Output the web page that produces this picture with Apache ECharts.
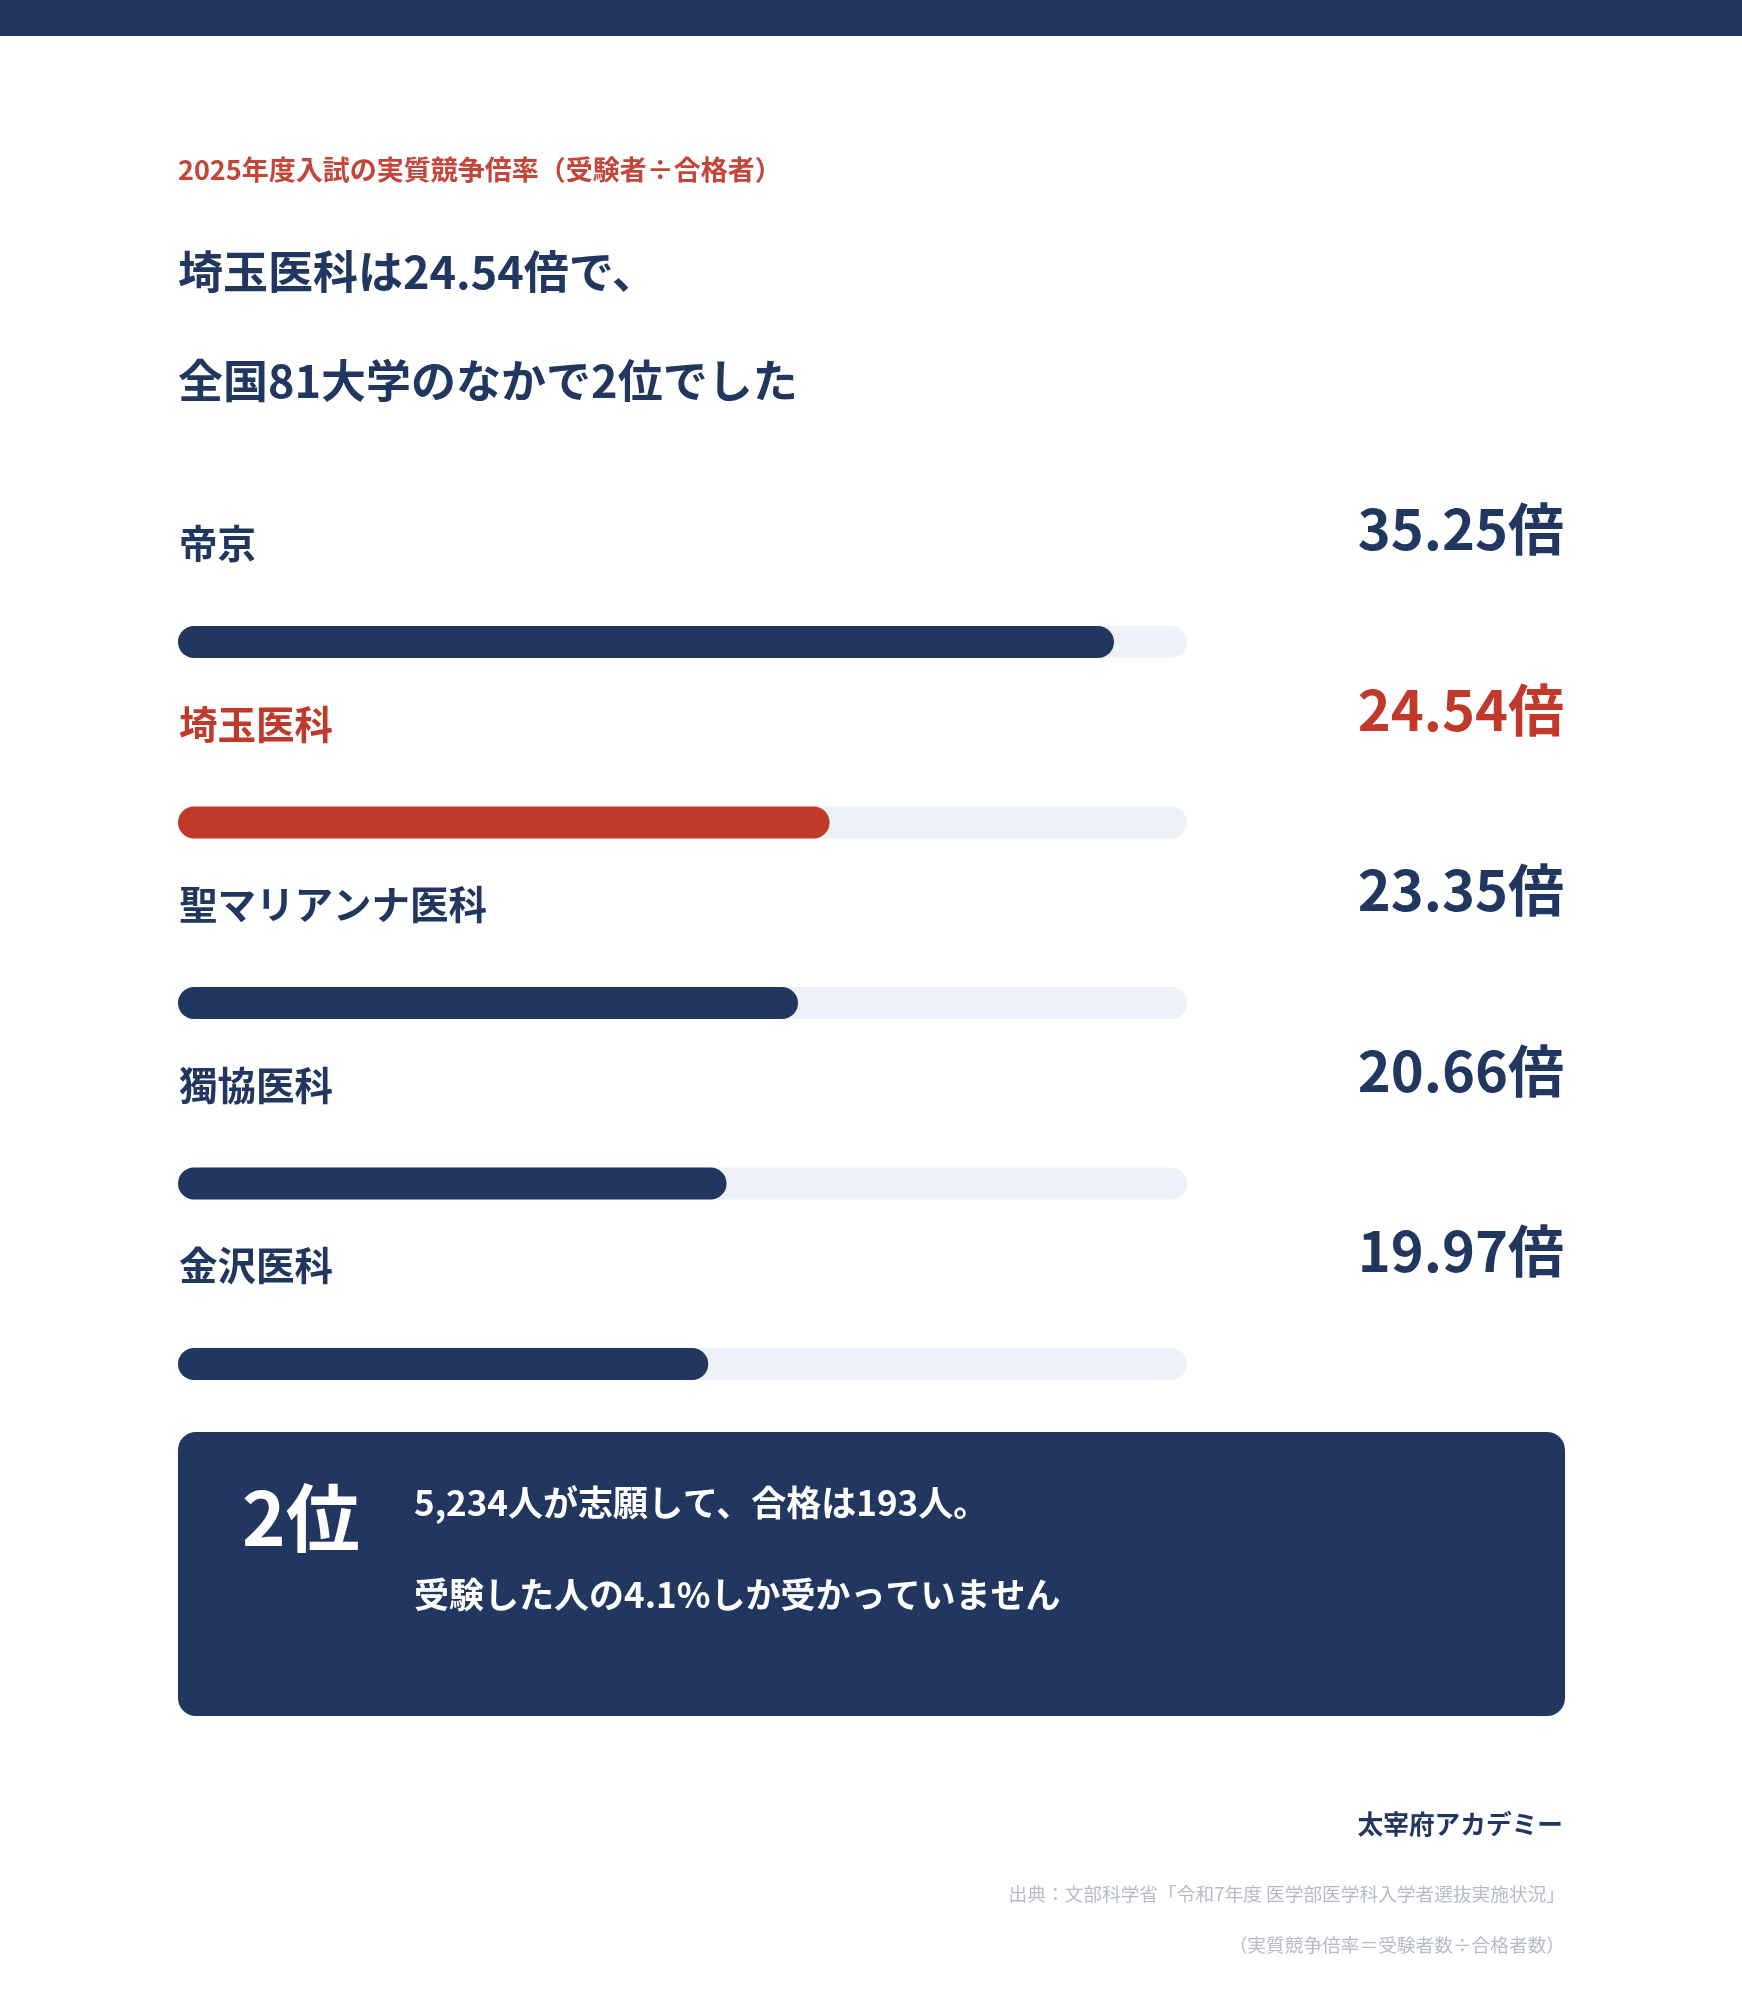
<!DOCTYPE html>
<html lang="ja">
<head>
<meta charset="utf-8">
<title>2025年度入試の実質競争倍率</title>
<script src="https://cdn.jsdelivr.net/npm/echarts@6/dist/echarts.min.js"></script>
<style>
  html, body { margin: 0; padding: 0; background: #ffffff; }
  #chart { width: 1742px; height: 2000px; }
</style>
</head>
<body>
<div id="chart"></div>
<script>
// ---- data ----
const categories = ['帝京', '埼玉医科', '聖マリアンナ医科', '獨協医科', '金沢医科'];
const values = [35.25, 24.54, 23.35, 20.66, 19.97];
const highlightName = '埼玉医科';
const axisMax = 38;
const rank = 2;
const universityCount = 81;
const applicants = '5,234';
const passed = 193;
const passRate = 4.1;

const subtitleText = '2025年度入試の実質競争倍率（受験者÷合格者）';
const brandText = '太宰府アカデミー';
const sourceText = '出典：文部科学省「令和7年度 医学部医学科入学者選抜実施状況」';
const noteText = '（実質競争倍率＝受験者数÷合格者数）';

// ---- styles ----
const NAVY = '#21375f';
const RED = '#c0392b';
const SUBRED = '#c4463b';
const TRACK = '#eef1f8';
const GRAY = '#b6bbc6';
const FONT = "'Noto Sans CJK JP', 'Noto Sans', sans-serif";

const hiIdx = categories.indexOf(highlightName);
const hiVal = values[hiIdx];

const barData = values.map((v, i) => ({
  value: v,
  itemStyle: { color: i === hiIdx ? RED : NAVY },
  label: { color: i === hiIdx ? RED : NAVY }
}));

const chart = echarts.init(document.getElementById('chart'), null, { renderer: 'canvas' });

const option = {
  backgroundColor: '#ffffff',
  animation: false,
  grid: { left: 178, right: 555, top: 551.75, bottom: 545.75, containLabel: false, outerBoundsMode: 'none' },
  xAxis: {
    type: 'value', min: 0, max: axisMax,
    axisLine: { show: false }, axisTick: { show: false },
    axisLabel: { show: false }, splitLine: { show: false }
  },
  yAxis: {
    type: 'category', data: categories, inverse: true,
    axisLine: { show: false }, axisTick: { show: false }, splitLine: { show: false },
    axisLabel: {
      inside: true, margin: 1, interval: 0,
      fontFamily: FONT, fontWeight: 'bold', fontSize: 38.5,
      color: (val) => (val === highlightName ? RED : NAVY),
      align: 'left', verticalAlign: 'middle',
      formatter: (val) => `{n|${val}}\n{s| }`,
      rich: {
        n: { fontFamily: FONT, fontWeight: 'bold', fontSize: 38.5, lineHeight: 40 },
        s: { fontSize: 10, lineHeight: 197 }
      }
    }
  },
  series: [{
    type: 'bar',
    data: barData,
    barWidth: 32,
    showBackground: true,
    backgroundStyle: { color: TRACK, borderRadius: 16 },
    itemStyle: { borderRadius: 16 },
    label: {
      show: true,
      position: [1386, -97],
      align: 'right', verticalAlign: 'middle',
      fontFamily: FONT, fontWeight: 'bold', fontSize: 56,
      formatter: (p) => p.value.toFixed(2) + '倍'
    }
  }],
  graphic: [
    { type: 'rect', shape: { x: 0, y: 0, width: 1742, height: 36 }, style: { fill: NAVY } },
    { type: 'text', x: 178, y: 170, style: { text: subtitleText, fill: SUBRED, font: `bold 27px ${FONT}`, textAlign: 'left', textVerticalAlign: 'middle' } },
    { type: 'text', x: 178, y: 272, style: { text: `${highlightName}は${hiVal.toFixed(2)}倍で、`, fill: NAVY, font: `bold 45px ${FONT}`, textAlign: 'left', textVerticalAlign: 'middle' } },
    { type: 'text', x: 178, y: 381, style: { text: `全国${universityCount}大学のなかで${rank}位でした`, fill: NAVY, font: `bold 45px ${FONT}`, textAlign: 'left', textVerticalAlign: 'middle' } },
    { type: 'rect', shape: { x: 178, y: 1432, width: 1387, height: 284, r: 18 }, style: { fill: NAVY } },
    { type: 'text', x: 242, y: 1518, style: { text: `${rank}位`, fill: '#ffffff', font: `bold 74px ${FONT}`, textAlign: 'left', textVerticalAlign: 'middle' } },
    { type: 'text', x: 414, y: 1503, style: { text: `${applicants}人が志願して、合格は${passed}人。`, fill: '#ffffff', font: `bold 35px ${FONT}`, textAlign: 'left', textVerticalAlign: 'middle' } },
    { type: 'text', x: 414, y: 1595, style: { text: `受験した人の${passRate}%しか受かっていません`, fill: '#ffffff', font: `bold 35px ${FONT}`, textAlign: 'left', textVerticalAlign: 'middle' } },
    { type: 'text', x: 1563, y: 1824, style: { text: brandText, fill: NAVY, font: `bold 25.7px ${FONT}`, textAlign: 'right', textVerticalAlign: 'middle' } },
    { type: 'text', x: 1565, y: 1894, style: { text: sourceText, fill: GRAY, font: `18.7px ${FONT}`, textAlign: 'right', textVerticalAlign: 'middle' } },
    { type: 'text', x: 1565, y: 1945, style: { text: noteText, fill: GRAY, font: `18.7px ${FONT}`, textAlign: 'right', textVerticalAlign: 'middle' } }
  ]
};

chart.setOption(option);
</script>
</body>
</html>
